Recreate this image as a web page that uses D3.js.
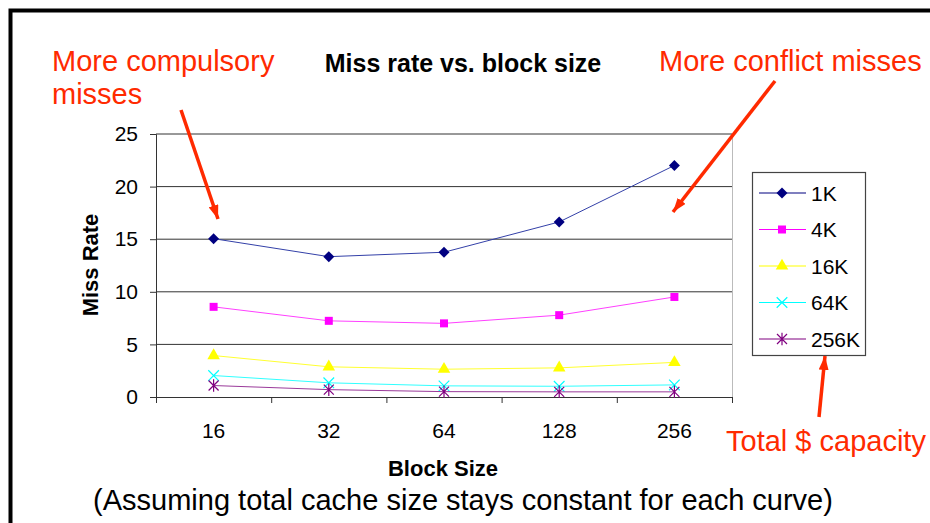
<!DOCTYPE html>
<html>
<head>
<meta charset="utf-8">
<script src="https://cdn.jsdelivr.net/npm/d3@7"></script>
<style>
  body { margin: 0; background: #fff; }
  text { font-family: "Liberation Sans", Arial, Helvetica, sans-serif; }
</style>
</head>
<body>
<div id="chart"></div>
<script>
// chart data (miss rate % by block size, one list per cache size)
const blockSizes = ["16", "32", "64", "128", "256"]
const cacheNames = ["1K", "4K", "16K", "64K", "256K"]
const miss1K   = [15.05, 13.34, 13.76, 16.64, 22.01]
const miss4K   = [8.57, 7.24, 7.00, 7.78, 9.51]
const miss16K  = [3.94, 2.87, 2.64, 2.77, 3.29]
const miss64K  = [2.04, 1.35, 1.06, 1.02, 1.15]
const miss256K = [1.09, 0.70, 0.51, 0.49, 0.49]
const yTicks = [0, 5, 10, 15, 20, 25]

const width = 930
const height = 523
const plot = { left: 156, right: 732, top: 134, bottom: 397 }
const red = "#ff2a00"

const svg = d3.select("#chart")
  .append("svg")
    .attr("width", width)
    .attr("height", height)

// slide frame (left + top edges)
svg.append("path")
  .attr("d", `M10.5,${height} V10.5 H${width}`)
  .attr("fill", "none")
  .attr("stroke", "#000")
  .attr("stroke-width", 4)

const x = d3.scaleBand().domain(blockSizes).range([plot.left, plot.right])
const xEdge = d3.scaleLinear().domain([0, blockSizes.length]).range([plot.left, plot.right])
const y = d3.scaleLinear().domain([0, 25]).range([plot.bottom, plot.top])

// gridlines
svg.append("g")
  .selectAll("line")
  .data(yTicks.filter(d => d > 0))
  .join("line")
    .attr("x1", plot.left).attr("x2", plot.right)
    .attr("y1", d => y(d)).attr("y2", d => y(d))
    .attr("stroke", "#333")
    .attr("stroke-width", 1)

// right edge of the plot area
svg.append("line")
  .attr("x1", plot.right + 0.5).attr("x2", plot.right + 0.5)
  .attr("y1", plot.top).attr("y2", plot.bottom)
  .attr("stroke", "#bbb")

// y axis
const yAxis = svg.append("g")
  .attr("transform", `translate(${plot.left},0)`)
  .call(d3.axisLeft(y).tickValues(yTicks).tickSize(6).tickPadding(12))
yAxis.select(".domain").attr("stroke", "#333")
yAxis.selectAll(".tick line").attr("stroke", "#333")
yAxis.selectAll("text").attr("font-size", 21).attr("font-family", "Liberation Sans, Arial").attr("fill", "#000")

// x axis: ticks on category edges, labels centred in each band
const xTickAxis = svg.append("g")
  .attr("transform", `translate(0,${plot.bottom})`)
  .call(d3.axisBottom(xEdge).tickValues(d3.range(blockSizes.length + 1)).tickSize(6).tickFormat(""))
xTickAxis.select(".domain").attr("stroke", "#333")
xTickAxis.selectAll(".tick line").attr("stroke", "#333")

const xLabelAxis = svg.append("g")
  .attr("transform", `translate(0,${plot.bottom})`)
  .call(d3.axisBottom(x).tickSize(0).tickPadding(26))
xLabelAxis.select(".domain").remove()
xLabelAxis.selectAll("text").attr("font-size", 21).attr("font-family", "Liberation Sans, Arial").attr("fill", "#000")

// series
const starPath = r => `M${-r},${-r}L${r},${r}M${-r},${r}L${r},${-r}M0,${-r * 1.25}L0,${r * 1.25}`
const series = [
  { name: cacheNames[0], values: miss1K,   color: "#000080", line: "#3340a8", marker: d3.symbol(d3.symbolSquare, 60)(), rotate: 45, fill: true },
  { name: cacheNames[1], values: miss4K,   color: "#ff00ff", line: "#ff40ff", marker: d3.symbol(d3.symbolSquare, 64)(), rotate: 0, fill: true },
  { name: cacheNames[2], values: miss16K,  color: "#ffff00", line: "#ffff30", marker: d3.symbol(d3.symbolTriangle, 68)(), rotate: 0, fill: true },
  { name: cacheNames[3], values: miss64K,  color: "#00ffff", line: "#30ffff", marker: d3.symbol(d3.symbolTimes, 75)(), rotate: 0, fill: false },
  { name: cacheNames[4], values: miss256K, color: "#800080", line: "#9a3a9a", marker: starPath(5), rotate: 0, fill: false }
]

const line = d3.line()
  .x((d, i) => x(blockSizes[i]) + x.bandwidth() / 2)
  .y(d => y(d))

series.forEach(s => {
  svg.append("path")
    .attr("d", line(s.values))
    .attr("fill", "none")
    .attr("stroke", s.line)
    .attr("stroke-width", 1)

  svg.append("g")
    .selectAll("path")
    .data(s.values)
    .join("path")
      .attr("d", s.marker)
      .attr("transform", (d, i) => `translate(${x(blockSizes[i]) + x.bandwidth() / 2},${y(d)}) rotate(${s.rotate})`)
      .attr("fill", s.fill ? s.color : "none")
      .attr("stroke", s.color)
      .attr("stroke-width", s.fill ? 0 : 1.2)
})

// legend
const legend = svg.append("g")
legend.append("rect")
  .attr("x", 752.5).attr("y", 172.5)
  .attr("width", 113).attr("height", 183)
  .attr("fill", "#fff")
  .attr("stroke", "#444")
  .attr("stroke-width", 1.2)

const legendY = d3.scaleLinear().domain([0, 4]).range([193, 339])
const entry = legend.selectAll("g.entry")
  .data(series)
  .join("g")
    .attr("class", "entry")
    .attr("transform", (d, i) => `translate(0,${legendY(i)})`)
entry.append("line")
  .attr("x1", 759).attr("x2", 806)
  .attr("stroke", d => d.color)
  .attr("stroke-width", 1.2)
entry.append("path")
  .attr("d", d => d.marker)
  .attr("transform", d => `translate(782,0) rotate(${d.rotate})`)
  .attr("fill", d => d.fill ? d.color : "none")
  .attr("stroke", d => d.color)
  .attr("stroke-width", d => d.fill ? 0 : 1.2)
entry.append("text")
  .attr("x", 811)
  .attr("y", 7.5)
  .attr("font-size", 21)
  .text(d => d.name)

// titles
svg.append("text")
  .attr("x", 463).attr("y", 72)
  .attr("text-anchor", "middle")
  .attr("font-size", 25).attr("font-weight", "bold")
  .text("Miss rate vs. block size")

svg.append("text")
  .attr("x", 443).attr("y", 476)
  .attr("text-anchor", "middle")
  .attr("font-size", 22).attr("font-weight", "bold")
  .text("Block Size")

svg.append("text")
  .attr("transform", "translate(98,265) rotate(-90)")
  .attr("text-anchor", "middle")
  .attr("font-size", 22).attr("font-weight", "bold")
  .text("Miss Rate")

svg.append("text")
  .attr("x", 463).attr("y", 510)
  .attr("text-anchor", "middle")
  .attr("font-size", 29)
  .text("(Assuming total cache size stays constant for each curve)")

// red annotations
const notes = [
  { text: "More compulsory", x: 52, y: 71 },
  { text: "misses", x: 52, y: 104 },
  { text: "More conflict misses", x: 659, y: 71 },
  { text: "Total $ capacity", x: 726, y: 451 }
]
svg.append("g")
  .selectAll("text")
  .data(notes)
  .join("text")
    .attr("x", d => d.x).attr("y", d => d.y)
    .attr("font-size", 29)
    .attr("fill", red)
    .text(d => d.text)

svg.append("defs").append("marker")
  .attr("id", "head")
  .attr("markerUnits", "userSpaceOnUse")
  .attr("viewBox", "0 -5 14 10")
  .attr("refX", 14).attr("refY", 0)
  .attr("markerWidth", 14).attr("markerHeight", 10)
  .attr("orient", "auto")
  .append("path")
    .attr("d", "M0,-5L14,0L0,5Z")
    .attr("fill", red)

const arrows = [
  [[181, 110], [218, 219]],
  [[775, 81], [673, 212]],
  [[819, 417], [825, 356]]
]
svg.append("g")
  .selectAll("line")
  .data(arrows)
  .join("line")
    .attr("x1", d => d[0][0]).attr("y1", d => d[0][1])
    .attr("x2", d => d[1][0]).attr("y2", d => d[1][1])
    .attr("stroke", red)
    .attr("stroke-width", 3.5)
    .attr("marker-end", "url(#head)")
</script>
</body>
</html>
